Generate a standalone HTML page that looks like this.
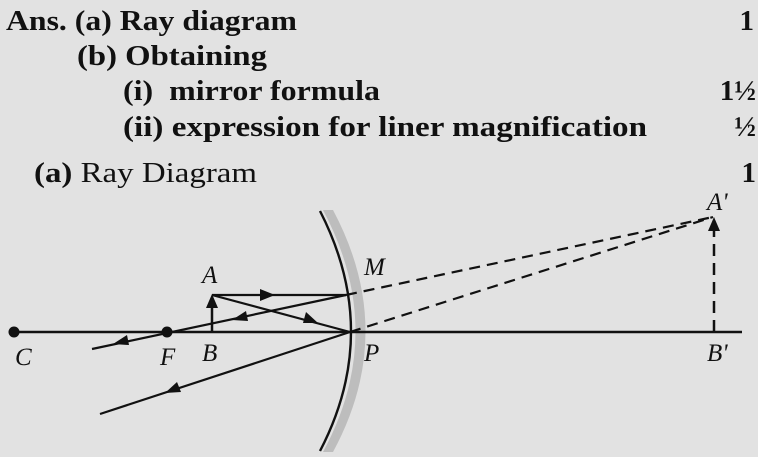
<!DOCTYPE html>
<html><head><meta charset="utf-8"><style>
html,body{margin:0;padding:0;background:#e2e2e2;}
svg{display:block}
text{font-family:"Liberation Serif",serif;fill:#111;}
.b{font-weight:bold;font-size:29px;}
.r{font-size:29px;}
.l{font-style:italic;font-size:25px;}
</style></head><body>
<svg width="758" height="457" viewBox="0 0 758 457" xmlns="http://www.w3.org/2000/svg">
<rect width="758" height="457" fill="#e2e2e2"/>
<text class="b" x="6" y="30" textLength="291" lengthAdjust="spacingAndGlyphs">Ans. (a) Ray diagram</text>
<text class="b" x="754" y="30" text-anchor="end">1</text>
<text class="b" x="77" y="65" textLength="190" lengthAdjust="spacingAndGlyphs">(b) Obtaining</text>
<text class="b" x="123" y="100" textLength="257" lengthAdjust="spacingAndGlyphs">(i)&#160; mirror formula</text>
<text class="b" x="756" y="100" text-anchor="end">1½</text>
<text class="b" x="123" y="136" textLength="524" lengthAdjust="spacingAndGlyphs">(ii) expression for liner magnification</text>
<text class="b" x="756" y="136" text-anchor="end">½</text>
<text x="34" y="182" class="r" textLength="223" lengthAdjust="spacingAndGlyphs"><tspan font-weight="bold">(a)</tspan> Ray Diagram</text>
<text class="b" x="756" y="182" text-anchor="end">1</text>

<path d="M323,210 Q388,332 323,452 L333,452 Q398,332 333,210 Z" fill="#bdbdbd"/>
<path d="M320,211 Q382,332 320,451" fill="none" stroke="#111" stroke-width="2.4"/>

<line x1="14" y1="332" x2="742" y2="332" stroke="#111" stroke-width="2.5"/>
<circle cx="14" cy="332" r="5.5" fill="#111"/>
<circle cx="167" cy="332" r="5.5" fill="#111"/>

<line x1="212" y1="332" x2="212" y2="302" stroke="#111" stroke-width="2.5"/>
<polygon points="212,294 206,308 218,308" fill="#111"/>

<line x1="212" y1="295" x2="346" y2="295" stroke="#111" stroke-width="2.2"/>
<polygon points="275,295 260,289 260,301" fill="#111"/>
<line x1="346" y1="295" x2="92" y2="349" stroke="#111" stroke-width="2.2"/>
<polygon points="232,320 246,311 248,321" fill="#111"/>
<polygon points="113,344 127,335 129,345" fill="#111"/>
<line x1="212" y1="295" x2="350" y2="332" stroke="#111" stroke-width="2.2"/>
<polygon points="318,323 303,323 306,312" fill="#111"/>
<line x1="350" y1="332" x2="100" y2="414" stroke="#111" stroke-width="2.2"/>
<polygon points="165,393 177,382 181,392" fill="#111"/>

<line x1="346" y1="295" x2="713" y2="217" stroke="#111" stroke-width="2.2" stroke-dasharray="11,7"/>
<line x1="350" y1="332" x2="713" y2="217" stroke="#111" stroke-width="2.2" stroke-dasharray="11,7"/>
<line x1="714" y1="332" x2="714" y2="226" stroke="#111" stroke-width="2.5" stroke-dasharray="12,7"/>
<polygon points="714,217 708,231 720,231" fill="#111"/>

<text class="l" x="202" y="283">A</text>
<text class="l" x="364" y="275">M</text>
<text class="l" x="202" y="361">B</text>
<text class="l" x="160" y="365">F</text>
<text class="l" x="15" y="365">C</text>
<text class="l" x="364" y="361">P</text>
<text class="l" x="707" y="210">A'</text>
<text class="l" x="707" y="361">B'</text>
</svg>
</body></html>
